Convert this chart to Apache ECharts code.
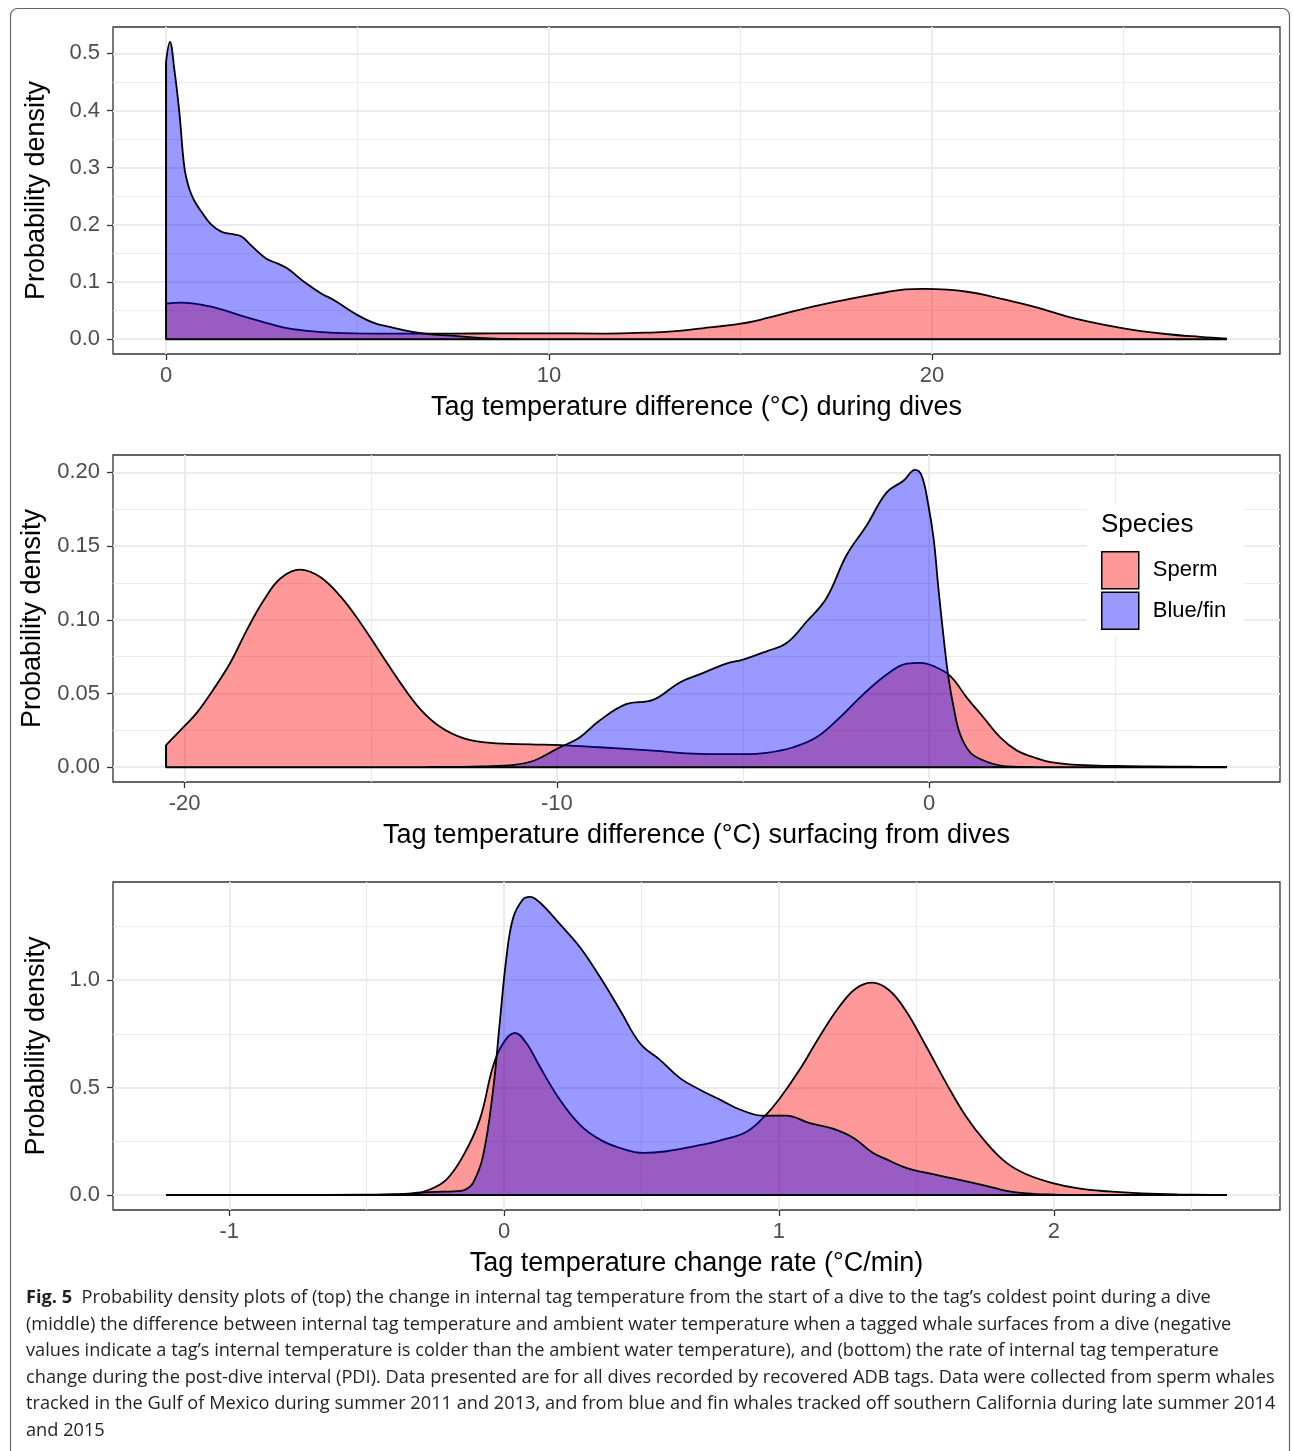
<!DOCTYPE html>
<html>
<head>
<meta charset="utf-8">
<title>Fig. 5 density plots</title>
<script src="https://cdn.jsdelivr.net/npm/echarts@6/dist/echarts.min.js"></script>
<style>
  html, body { margin: 0; padding: 0; background: #fff; }
  #main { width: 1293px; height: 1451px; }
</style>
</head>
<body>
<div id="main"></div>
<script>
// ---- data: [x, density] pairs ----
// top panel: tag temperature difference during dives
const topSperm = [[0,0.062],[0.39,0.064],[0.74,0.062],[1.35,0.054],[1.87,0.043],[2.48,0.031],[3.09,0.020],
  [3.61,0.015],[4.39,0.011],[5.0,0.010],[6,0.0097],[7,0.0097],[8,0.0099],[9,0.0101],[10,0.0102],[11.35,0.0098],
  [12.3,0.011],[13.05,0.0128],[14,0.019],[15,0.027],[15.7,0.037],[16.45,0.05],[17.3,0.063],[18.16,0.0745],
  [18.8,0.082],[19.3,0.087],[19.8,0.088],[20.4,0.0865],[21,0.082],[21.53,0.075],[22.1,0.066],[22.7,0.056],
  [23.8,0.035],[25,0.019],[26.1,0.009],[27,0.004],[27.7,0.001]];
const topBlue = [[0,0.485],[0.1,0.52],[0.22,0.47],[0.35,0.395],[0.48,0.30],[0.61,0.262],[0.74,0.242],[0.91,0.224],
  [1.17,0.201],[1.44,0.188],[1.70,0.184],[1.96,0.180],[2.22,0.164],[2.61,0.141],[2.92,0.132],[3.18,0.123],
  [3.61,0.100],[4.05,0.080],[4.39,0.068],[5.0,0.042],[5.44,0.028],[5.87,0.021],[6.40,0.013],[6.83,0.009],
  [7.44,0.006],[8.0,0.003],[8.6,0.001],[9.2,0]];

// middle panel: tag temperature difference surfacing from dives
const midSperm = [[-20.5,0.015],[-20,0.028],[-19.67,0.037],[-19.22,0.053],[-18.77,0.071],[-18.33,0.093],
  [-17.88,0.113],[-17.43,0.128],[-16.9,0.134],[-16.36,0.129],[-15.82,0.116],[-15.28,0.098],[-14.74,0.0775],
  [-14.2,0.057],[-13.66,0.039],[-13.12,0.027],[-12.5,0.0195],[-11.78,0.0164],[-10.7,0.0155],[-9.9,0.015],
  [-8.86,0.0135],[-7.42,0.0112],[-6.17,0.009],[-5.0,0.0088],[-4.37,0.0097],[-3.65,0.0135],[-3.03,0.0202],
  [-2.40,0.0337],[-1.77,0.0494],[-1.14,0.0629],[-0.60,0.0703],[-0.24,0.0708],[0.12,0.0685],[0.57,0.0618],
  [1.01,0.0472],[1.46,0.0337],[1.91,0.0202],[2.36,0.0112],[2.81,0.0067],[3.26,0.0034],[4,0.0015],[5,0.0008],
  [6,0.0005],[7,0.0003],[8,0.0001]];
const midBlue = [[-13.5,0],[-12.5,0.0002],[-12.05,0.0005],[-11.15,0.0016],[-10.6,0.0045],[-10,0.0124],
  [-9.4,0.020],[-8.86,0.0315],[-8.14,0.0427],[-7.42,0.0456],[-6.71,0.0573],[-6.17,0.0629],[-5.45,0.0703],
  [-5.0,0.073],[-4.37,0.0786],[-3.83,0.0842],[-3.29,0.0988],[-2.76,0.1146],[-2.22,0.1438],[-1.68,0.164],
  [-1.14,0.1864],[-0.69,0.1943],[-0.38,0.2017],[-0.20,0.1977],[-0.02,0.1775],[0.12,0.155],[0.25,0.121],
  [0.39,0.0876],[0.52,0.0606],[0.66,0.0404],[0.83,0.0225],[1.10,0.0101],[1.46,0.0045],[1.91,0.0011],
  [2.36,0.0002],[2.8,0]];

// bottom panel: tag temperature change rate
const botSperm = [[-1.23,0],[-0.8,0.0005],[-0.5,0.002],[-0.4,0.003],[-0.33,0.006],[-0.27,0.026],[-0.21,0.072],
  [-0.15,0.18],[-0.089,0.35],[-0.04,0.60],[-0.004,0.705],[0.039,0.755],[0.082,0.705],[0.13,0.597],[0.203,0.443],
  [0.276,0.327],[0.349,0.258],[0.422,0.219],[0.507,0.196],[0.592,0.204],[0.69,0.227],[0.787,0.255],[0.884,0.296],
  [0.95,0.37],[1.0,0.445],[1.075,0.583],[1.148,0.738],[1.22,0.877],[1.28,0.961],[1.34,0.988],[1.40,0.954],
  [1.46,0.861],[1.536,0.691],[1.608,0.522],[1.68,0.367],[1.754,0.244],[1.827,0.151],[1.90,0.097],[1.996,0.056],
  [2.09,0.031],[2.20,0.017],[2.32,0.008],[2.45,0.003],[2.63,0]];
const botBlue = [[-0.5,0],[-0.38,0.004],[-0.3,0.012],[-0.22,0.016],[-0.17,0.018],[-0.14,0.026],[-0.113,0.057],
  [-0.077,0.18],[-0.04,0.49],[-0.016,0.80],[0.0085,1.106],[0.033,1.29],[0.069,1.376],[0.094,1.387],[0.13,1.361],
  [0.203,1.26],[0.276,1.153],[0.349,1.014],[0.422,0.86],[0.495,0.705],[0.568,0.628],[0.641,0.543],[0.714,0.489],
  [0.787,0.443],[0.86,0.397],[0.945,0.369],[1.027,0.37],[1.11,0.336],[1.196,0.309],[1.27,0.267],[1.34,0.198],
  [1.39,0.167],[1.46,0.128],[1.56,0.097],[1.657,0.071],[1.754,0.043],[1.827,0.020],[1.90,0.008],[2.0,0.002],[2.1,0]];

// tick values
const topXTicks = [0, 10, 20], topXMinor = [5, 15, 25];
const topYTicks = [0, 0.1, 0.2, 0.3, 0.4, 0.5], topYMinor = [0.05, 0.15, 0.25, 0.35, 0.45];
const midXTicks = [-20, -10, 0], midXMinor = [-15, -5, 5];
const midYTicks = [0, 0.05, 0.1, 0.15, 0.2], midYMinor = [0.025, 0.075, 0.125, 0.175];
const botXTicks = [-1, 0, 1, 2], botXMinor = [-0.5, 0.5, 1.5, 2.5];
const botYTicks = [0, 0.5, 1.0], botYMinor = [0.25, 0.75, 1.25];

const xTitles = [
  'Tag temperature difference (°C) during dives',
  'Tag temperature difference (°C) surfacing from dives',
  'Tag temperature change rate (°C/min)'
];
const yTitle = 'Probability density';
const speciesNames = ['Sperm', 'Blue/fin'];

const captionLines = [
  '{b|Fig. 5}  Probability density plots of (top) the change in internal tag temperature from the start of a dive to the tag\u2019s coldest point during a dive',
  '(middle) the difference between internal tag temperature and ambient water temperature when a tagged whale surfaces from a dive (negative',
  'values indicate a tag\u2019s internal temperature is colder than the ambient water temperature), and (bottom) the rate of internal tag temperature',
  'change during the post-dive interval (PDI). Data presented are for all dives recorded by recovered ADB tags. Data were collected from sperm whales',
  'tracked in the Gulf of Mexico during summer 2011 and 2013, and from blue and fin whales tracked off southern California during late summer 2014',
  'and 2015'
];

// ---- build the chart ----
const plotFont = '"Liberation Sans", Arial, sans-serif';
const capFont = '"Open Sans", sans-serif';
const redFill = 'rgba(255,0,0,0.4)';
const blueFill = 'rgba(0,0,255,0.4)';

function xRange(list) {
  let a = Infinity, b = -Infinity;
  list.forEach(s => s.forEach(p => { a = Math.min(a, p[0]); b = Math.max(b, p[0]); }));
  return [a, b];
}
function yMax(list) {
  let b = 0;
  list.forEach(s => s.forEach(p => { b = Math.max(b, p[1]); }));
  return b;
}

const panels = [
  { sperm: topSperm, blue: topBlue, xt: topXTicks, xm: topXMinor, yt: topYTicks, ym: topYMinor, dec: 1, top: 27, height: 327 },
  { sperm: midSperm, blue: midBlue, xt: midXTicks, xm: midXMinor, yt: midYTicks, ym: midYMinor, dec: 2, top: 455, height: 327 },
  { sperm: botSperm, blue: botBlue, xt: botXTicks, xm: botXMinor, yt: botYTicks, ym: botYMinor, dec: 1, top: 882, height: 328 }
];

const grids = [], xAxes = [], yAxes = [], series = [];
panels.forEach((p, i) => {
  // ggplot-style 5% expansion of the data range
  const xr = xRange([p.sperm, p.blue]);
  const xd = (xr[1] - xr[0]) * 0.05;
  const ymx = yMax([p.sperm, p.blue]);
  const yd = ymx * 0.05;
  const xmin = xr[0] - xd, xmax = xr[1] + xd, ymin = -yd, ymaxv = ymx + yd;

  grids.push({ left: 113, width: 1167, top: p.top, height: p.height, show: true,
    borderColor: '#333', borderWidth: 1.3, backgroundColor: 'transparent' });

  xAxes.push({
    type: 'value', gridIndex: i, min: xmin, max: xmax, position: 'bottom',
    axisLine: { show: false, onZero: false },
    axisTick: { customValues: p.xt, length: 6, lineStyle: { color: '#333', width: 1.3 } },
    axisLabel: { customValues: p.xt, fontSize: 22, color: '#4d4d4d', margin: 11, fontFamily: plotFont },
    splitLine: { lineStyle: { color: '#ebebeb', width: 2 } },
    name: xTitles[i], nameLocation: 'middle', nameGap: 40,
    nameTextStyle: { fontSize: 27, color: '#000', fontFamily: plotFont, verticalAlign: 'top' }
  });
  xAxes.push({
    type: 'value', gridIndex: i, min: xmin, max: xmax, position: 'bottom',
    axisLine: { show: false, onZero: false }, axisTick: { show: false, customValues: p.xm }, axisLabel: { show: false },
    splitLine: { lineStyle: { color: '#ebebeb', width: 1.2 } }
  });
  yAxes.push({
    type: 'value', gridIndex: i, min: ymin, max: ymaxv, position: 'left',
    axisLine: { show: false, onZero: false },
    axisTick: { customValues: p.yt, length: 6, lineStyle: { color: '#333', width: 1.3 } },
    axisLabel: { customValues: p.yt, fontSize: 22, color: '#4d4d4d', margin: 13, fontFamily: plotFont,
      formatter: v => v.toFixed(p.dec) },
    splitLine: { lineStyle: { color: '#ebebeb', width: 2 } },
    name: yTitle, nameLocation: 'middle', nameGap: 63, nameRotate: 90,
    nameTextStyle: { fontSize: 27, color: '#000', fontFamily: plotFont }
  });
  yAxes.push({
    type: 'value', gridIndex: i, min: ymin, max: ymaxv, position: 'left',
    axisLine: { show: false, onZero: false }, axisTick: { show: false, customValues: p.ym }, axisLabel: { show: false },
    splitLine: { lineStyle: { color: '#ebebeb', width: 1.2 } }
  });

  const base = { type: 'line', xAxisIndex: 2 * i, yAxisIndex: 2 * i, showSymbol: false, smooth: 0.4,
    silent: true, lineStyle: { color: '#000', width: 1.8 } };
  series.push(Object.assign({}, base, { name: speciesNames[0], data: p.sperm,
    itemStyle: { color: redFill }, areaStyle: { color: redFill, opacity: 1 }, z: 2 }));
  series.push(Object.assign({}, base, { name: speciesNames[1], data: p.blue,
    itemStyle: { color: blueFill }, areaStyle: { color: blueFill, opacity: 1 }, z: 3 }));

  // outline of the density polygons: start edge and baseline
  const starts = [p.sperm[0], p.blue[0]].sort((a, b) => a[0] - b[0] || b[1] - a[1]);
  const first = starts[0];
  const edge = [[first[0], first[1]], [first[0], 0], [xr[1], 0]];
  series.push({ type: 'line', name: 'outline' + i, xAxisIndex: 2 * i, yAxisIndex: 2 * i, data: edge,
    showSymbol: false, silent: true, lineStyle: { color: '#000', width: 2 }, z: 4 });
});

// caption font size fitted to the printed line length
function fitSize(text, width) {
  const ctx = document.createElement('canvas').getContext('2d');
  ctx.font = '100px ' + capFont;
  return Math.min(20, 100 * width / ctx.measureText(text).width);
}
const capSize = fitSize(captionLines[4], 1250);
const capY = [1298, 1325, 1351, 1378, 1404, 1431];

const graphics = [
  { type: 'rect', shape: { x: 10.5, y: 8.5, width: 1279, height: 1500, r: 7 }, silent: true,
    style: { fill: 'none', stroke: '#666', lineWidth: 1.2 }, z: 0 },
  { type: 'text', x: 1101, y: 525, z: 100, silent: true,
    style: { text: 'Species', fontSize: 26, fontFamily: plotFont, fill: '#000', verticalAlign: 'middle' } }
];
captionLines.forEach((t, k) => {
  graphics.push({ type: 'text', x: 26, y: capY[k], silent: true,
    style: { text: t, fontSize: capSize, fontFamily: capFont, fill: '#231f20', verticalAlign: 'middle',
      rich: { b: { fontSize: capSize, fontFamily: capFont, fontWeight: 'bold', fill: '#231f20' } } } });
});

const myChart = echarts.init(document.getElementById('main'));
const option = {
  backgroundColor: '#fff',
  animation: false,
  grid: grids,
  xAxis: xAxes,
  yAxis: yAxes,
  legend: {
    data: speciesNames.map(n => ({ name: n, itemStyle: { color: n === 'Sperm' ? redFill : blueFill,
      borderColor: '#000', borderWidth: 1.5 } })),
    orient: 'vertical', left: 1087, top: 505, icon: 'rect',
    itemWidth: 37, itemHeight: 37, itemGap: 2,
    padding: [46, 18, 6, 14], backgroundColor: '#fff',
    selectedMode: false,
    textStyle: { fontSize: 22, color: '#000', fontFamily: plotFont, padding: [0, 0, 0, 9] }
  },
  graphic: graphics,
  series: series
};
myChart.setOption(option);
</script>
</body>
</html>
